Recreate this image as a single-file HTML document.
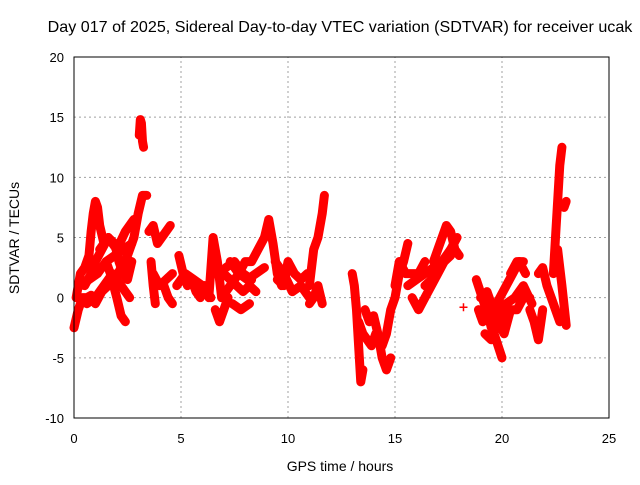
<!DOCTYPE html>
<html><head><meta charset="utf-8"><style>
body{margin:0;background:#fff;}
svg text{font-family:"Liberation Sans",sans-serif;fill:#000;}
</style></head><body>
<svg id="chart" width="640" height="480" xmlns="http://www.w3.org/2000/svg">
<text x="340" y="32" font-size="16.1" text-anchor="middle">Day 017 of 2025, Sidereal Day-to-day VTEC variation (SDTVAR) for receiver ucak</text>
<text x="340" y="471" font-size="14" text-anchor="middle">GPS time / hours</text>
<text transform="translate(19,238) rotate(-90)" font-size="14" text-anchor="middle">SDTVAR / TECUs</text>
<g id="grid"></g>
<g id="ticks"></g>
<g id="marks"></g>
<rect x="74" y="57" width="535" height="361" fill="none" stroke="#000" stroke-width="1"/>
</svg>
<script>
const xTicks=[0,5,10,15,20,25];
const yTicks=[-10,-5,0,5,10,15,20];
const trackTimes=[
[0,0.2,0.4,0.6,0.8,1.0,1.3,1.6,1.9,2.2,2.5,2.8,3.0,3.2,3.4],
[0.1,0.3,0.5,0.7,0.8,0.9,1.0,1.1,1.2,1.4,1.6],
[0.5,0.8,1.0,1.3,1.6,1.9,2.1,2.3,2.5,2.7],
[1.5,1.7,2.0,2.2,2.4],
[3.05,3.1,3.15,3.2,3.25],
[3.5,3.7,3.9,4.1,4.3,4.5],
[3.6,3.7,3.8],
[4.2,4.4,4.6],
[4.9,5.1,5.3,5.5,5.7,5.9,6.1,6.3],
[5.9,6.1,6.3,6.5,6.7,6.9],
[6.6,6.8,7.0,7.2],
[7.0,7.3,7.6,7.9,8.2,8.5],
[7.3,7.7,8.0,8.3,8.6,8.9],
[7.4,7.8,8.2],
[8.9,9.1,9.3,9.5,9.7,10.0],
[9.5,9.8,10.0,10.3,10.6,10.9],
[11.0,11.2,11.4,11.6,11.7],
[11.0,11.2,11.4,11.6],
[13.0,13.1,13.2,13.3,13.4,13.5],
[13.3,13.5,13.7,13.9,14.1],
[13.6,13.8,14.0,14.2,14.4,14.6,14.8],
[14.4,14.6,14.8,15.0,15.2,15.4,15.6],
[15.0,15.2,15.5,15.8,16.1,16.4],
[15.8,16.1,16.4,16.7,17.0,17.3,17.6,17.9],
[16.8,17.0,17.2,17.4,17.6,17.8,18.0],
[16.4,16.7,17.0,17.3,17.6],
[18.2],
[18.9,19.1,19.3,19.5,19.7,19.9,20.1],
[19.0,19.3,19.6,19.9,20.2,20.5,20.8,21.1],
[19.2,19.5,19.8,20.1,20.4,20.7,21.0,21.3],
[21.3,21.5,21.7,21.9],
[21.7,21.9,22.1,22.3,22.5,22.7],
[22.4,22.5,22.6,22.7,22.8],
[22.6,22.8,23.0],
[22.9,23.0],
[20.0,18.8],
[0.3,0.7,1.1,1.5,1.9,2.3,2.7],
[0.6,1.0,1.4,1.8,2.2,2.6],
[1.2,1.6,2.0,2.4,2.8],
[3.7,4.0,4.3,4.6],
[4.8,5.2,5.6,6.0,6.4],
[6.9,7.3,7.7,8.1,8.5,8.9],
[7.1,7.5,7.9,8.3],
[9.4,9.8,10.2,10.6,11.0],
[15.6,16.0,16.4,16.8,17.2,17.6],
[19.0,19.4,19.8,20.2,20.6,21.0,21.4],
[20.4,20.7,21.0]
];
const trackValues=[
[-2.5,-1,0,0,0.2,-0.5,0.5,1,1.5,2.5,3.5,5,7,8.5,8.5],
[0,2,2.5,3.5,5.5,7,8,7.5,6,4.5,5],
[1,2,3,4,5,4.5,3,2,1.5,3],
[3,2,0,-1.5,-2],
[13.5,14.8,14.5,13,12.5],
[5.5,6,4.5,5,5.5,6],
[3,1,-0.5],
[1,0,-0.5],
[3.5,2,1,1.5,0.5,0,1,0.5],
[0.5,1,0,5,3,0],
[-1,-2,-1,0],
[2,1.5,1,0.5,1,0.5],
[3,2,3,3,4,5],
[-0.5,-1,-0.5],
[5,6.5,4.5,2,1,2.5],
[1.5,1,3,2,1.5,2],
[1,4,5,7,8.5],
[-0.5,0,1,-0.5],
[2,1,-1,-4,-7,-6],
[-2,-3,-3.5,-4,-3],
[-1,-2,-1.5,-3,-5,-6,-5],
[-4,-3,-1,0,2,3,4.5],
[1,3,2,2,2,3],
[0,-1,0,1,2,3,4,5],
[3,4,5,6,5.5,4,3.5],
[1,1.5,2.5,3,3.5],
[-0.8],
[-1,-2,-1,-2.5,-2,-2,-1],
[0,0.5,-1,0,1,2,3,2],
[-3,-3.5,-2,-3,-1,-1,0,0],
[-1,-2,-3.5,-1],
[2,2.5,1,0,-1,-2],
[2,5,8,11,12.5],
[4,1,-2.3],
[7.5,8],
[-5,1.5],
[1,1.5,2,3,3.5,4,4.5],
[-0.5,0,1,2,1,0],
[4,5,4,5.5,6.5],
[2,1,1.5,2],
[1,2,1.5,1,0],
[0,1,2,1.5,2,2.5],
[2.5,3,2,1.5],
[3,2,0.5,1,0],
[1,1.5,2,2.5,3,4],
[-1.5,-2,-1,-0.5,0,1,-0.5],
[2,3,3]
];
const X0=74,X1=609,Y0=418,Y1=57;
function xs(t){return X0+(t-0)/(25-0)*(X1-X0);}
function ys(v){return Y0-(v+10)/(30)*(Y0-Y1);}
const NS="http://www.w3.org/2000/svg";
const grid=document.getElementById('grid'),ticks=document.getElementById('ticks'),marks=document.getElementById('marks');
function mk(tag,attrs,parent){const e=document.createElementNS(NS,tag);for(const k in attrs)e.setAttribute(k,attrs[k]);parent.appendChild(e);return e;}
xTicks.forEach(t=>{
 const x=xs(t);
 if(t>0&&t<25){const g=mk('line',{x1:x,x2:x,y1:Y0,y2:Y1,stroke:'#a0a0a0','stroke-dasharray':'2,3'},grid);
 
 }
 const l=mk('text',{x:x,y:Y0+25,'font-size':13,'text-anchor':'middle'},ticks);l.textContent=t;
 
 
});
yTicks.forEach(v=>{
 const y=ys(v);
 if(v>-10&&v<20){const g=mk('line',{x1:X0,x2:X1,y1:y,y2:y,stroke:'#a0a0a0','stroke-dasharray':'2,3'},grid);
 
 }
 const l=mk('text',{x:X0-10,y:y+5,'font-size':13,'text-anchor':'end'},ticks);l.textContent=v;
 
 
});
trackTimes.forEach((ts,i)=>{
 const vs=trackValues[i];
 const pts=ts.map((t,j)=>xs(t)+','+ys(vs[j])).join(' ');
 if(ts.length>1){const p=mk('polyline',{points:pts,fill:'none',stroke:'#ff0000','stroke-width':9,'stroke-linejoin':'round','stroke-linecap':'round'},marks);
 
 }
 ts.forEach((t,j)=>{
  const x=xs(t),y=ys(vs[j]);
  const m=mk('path',{d:`M${x-4},${y}H${x+4}M${x},${y-4}V${y+4}`,stroke:'#ff0000','stroke-width':1.5},marks);
  
  
 });
});
</script>
</body></html>
